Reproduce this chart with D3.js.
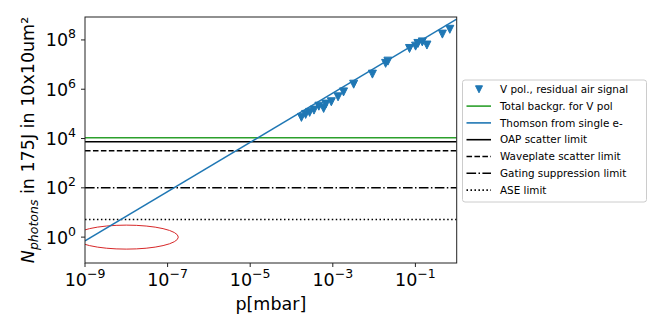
<!DOCTYPE html>
<html>
<head>
<meta charset="utf-8">
<script src="https://cdn.jsdelivr.net/npm/d3@7"></script>
<style>
  body { margin: 0; background: #fff; }
  svg { font-family: "DejaVu Sans", sans-serif; }
</style>
</head>
<body>
<svg width="664" height="332"></svg>
<script>
// measured points, V polarisation, residual air
const pressure = [1.74e-4, 2.2e-4, 2.75e-4, 3.5e-4, 4.6e-4, 6.0e-4, 6.8e-4, 9.2e-4, 1.34e-3, 1.82e-3,
                  3.2e-3, 9.1e-3, 1.9e-2, 2.16e-2, 7.2e-2, 0.101, 0.115, 0.147, 0.19, 0.45, 0.68];
const photons  = [7.2e4, 9.5e4, 1.15e5, 1.42e5, 2.05e5, 1.66e5, 2.5e5, 3.1e5, 4.9e5, 7.8e5,
                  1.6e6, 4.1e6, 1.12e7, 1.38e7, 4.5e7, 5.6e7, 7.2e7, 8.3e7, 6.2e7, 1.72e8, 2.7e8];

// Thomson from single electron: N = k * p
const thomsonP = [1e-9, 1];
const thomsonK = 7e8;

// horizontal limits
const limitNames  = ["Total backgr. for V pol", "OAP scatter limit", "Waveplate scatter limit",
                     "Gating suppression limit", "ASE limit"];
const limitValues = [1.07e4, 7.4e3, 3.2e3, 100, 5.2];

const xTicks = [1e-9, 1e-7, 1e-5, 1e-3, 1e-1];
const yTicks = [1e0, 1e2, 1e4, 1e6, 1e8];
const ellipseCenter = [1e-8, 1];

let svg = d3.select("svg");
let margin = {left: 85, right: 207.3, top: 17, bottom: 69};
let width = 664 - margin.left - margin.right;
let height = 332 - margin.top - margin.bottom;

let x = d3.scaleLog().domain([1e-9, 1]).range([0, width]);
let y = d3.scaleLog().domain([Math.pow(10, -1.05), Math.pow(10, 8.93)]).range([height, 0]);

let g = svg.append("g").attr("transform", `translate(${margin.left},${margin.top})`);

svg.append("defs").append("clipPath").attr("id", "plotclip")
    .append("rect").attr("width", width).attr("height", height);

let plot = g.append("g").attr("clip-path", "url(#plotclip)");

let styles = [
    {color: "#2ca02c", dash: null},
    {color: "#000", dash: null},
    {color: "#000", dash: "5.55,2.4"},
    {color: "#000", dash: "9.6,2.4,1.5,2.4"},
    {color: "#000", dash: "1.5,2.48"}
];

plot.selectAll(".limit")
    .data(limitValues)
    .enter().append("line")
    .attr("class", "limit")
    .attr("x1", 0).attr("x2", width)
    .attr("y1", d => y(d)).attr("y2", d => y(d))
    .attr("stroke", (d, i) => styles[i].color)
    .attr("stroke-dasharray", (d, i) => styles[i].dash)
    .attr("stroke-width", 1.6);

// ellipse drawn in screen units around a data point
plot.append("ellipse")
    .attr("cx", x(ellipseCenter[0]))
    .attr("cy", y(ellipseCenter[1]))
    .attr("rx", 52).attr("ry", 12)
    .attr("fill", "none")
    .attr("stroke", "#d62728")
    .attr("stroke-width", 1);

plot.append("path")
    .datum(thomsonP)
    .attr("d", d3.line().x(d => x(d)).y(d => y(thomsonK * d)))
    .attr("fill", "none")
    .attr("stroke", "#1f77b4")
    .attr("stroke-width", 1.6);

let tri = s => `M0,${s / 2}L${-s / 2},${-s / 2}L${s / 2},${-s / 2}Z`;

g.selectAll(".pt")
    .data(pressure)
    .enter().append("path")
    .attr("class", "pt")
    .attr("d", tri(8))
    .attr("transform", (d, i) => `translate(${x(d)},${y(photons[i])})`)
    .attr("fill", "#1f77b4")
    .attr("stroke", "#1f77b4")
    .attr("stroke-width", 1);

// frame
g.append("rect").attr("width", width).attr("height", height)
    .attr("fill", "none").attr("stroke", "#222").attr("stroke-width", 1);

function powerLabel(sel, v) {
    let e = Math.round(Math.log10(v));
    sel.append("tspan").text("10");
    sel.append("tspan").attr("dy", -8).attr("font-size", 12.5)
        .text(e < 0 ? "\u2212" + (-e) : e);
}

// x ticks
let xt = g.selectAll(".xt").data(xTicks).enter().append("g")
    .attr("transform", d => `translate(${x(d)},${height})`);
xt.append("line").attr("y2", 4).attr("stroke", "#222");
xt.append("text").attr("y", 23).attr("text-anchor", "middle")
    .attr("font-size", 17.5).attr("fill", "#000")
    .each(function(d) { powerLabel(d3.select(this), d); });

// y ticks
let yt = g.selectAll(".yt").data(yTicks).enter().append("g")
    .attr("transform", d => `translate(0,${y(d)})`);
yt.append("line").attr("x2", -4).attr("stroke", "#222");
yt.append("text").attr("x", -9).attr("y", 6.5).attr("text-anchor", "end")
    .attr("font-size", 17.5).attr("fill", "#000")
    .each(function(d) { powerLabel(d3.select(this), d); });

// axis labels
svg.append("text")
    .attr("x", margin.left + width / 2).attr("y", 310)
    .attr("text-anchor", "middle").attr("font-size", 17.5)
    .text("p[mbar]");

let yl = svg.append("text")
    .attr("transform", `translate(34,${margin.top + height / 2}) rotate(-90)`)
    .attr("text-anchor", "middle").attr("font-size", 17.5);
yl.append("tspan").attr("font-style", "italic").text("N");
yl.append("tspan").attr("font-style", "italic").attr("font-size", 12.5).attr("dy", 4).text("photons");
yl.append("tspan").attr("dy", -4).text(" in 175J in 10x10um\u00b2");

// legend
let leg = svg.append("g").attr("transform", "translate(462.5,80)");
leg.append("rect").attr("width", 184).attr("height", 122)
    .attr("rx", 2.5).attr("fill", "#fff").attr("fill-opacity", 0.8)
    .attr("stroke", "#ccc").attr("stroke-width", 1);

let legendNames = ["V pol., residual air signal", limitNames[0], "Thomson from single e-"].concat(limitNames.slice(1));
let legendStyles = [null, styles[0], {color: "#1f77b4", dash: null}].concat(styles.slice(1));

let items = leg.selectAll(".item").data(legendNames).enter().append("g")
    .attr("transform", (d, i) => `translate(0,${9.3 + i * 16.8})`);
items.each(function(d, i) {
    let it = d3.select(this);
    let st = legendStyles[i];
    if (st === null) {
        it.append("path").attr("d", tri(7)).attr("transform", "translate(16.5,0)")
            .attr("fill", "#1f77b4").attr("stroke", "#1f77b4");
    } else {
        it.append("line").attr("x1", 4).attr("x2", 28.5)
            .attr("stroke", st.color).attr("stroke-width", 1.6)
            .attr("stroke-dasharray", st.dash);
    }
});
items.append("text").attr("x", 37.5).attr("y", 3.7)
    .attr("font-size", 10.4).attr("fill", "#000")
    .text(d => d);
</script>
</body>
</html>
